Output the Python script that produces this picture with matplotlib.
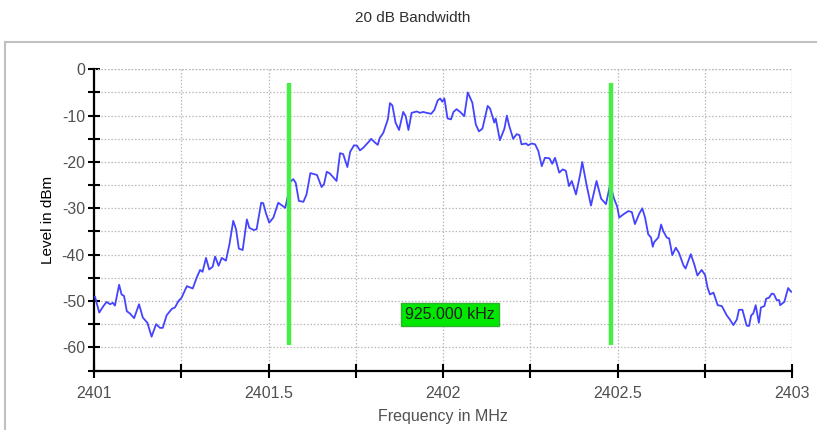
import numpy as np
import matplotlib
matplotlib.use("Agg")
import matplotlib.pyplot as plt
from matplotlib.lines import Line2D
from matplotlib.ticker import MultipleLocator

plt.rcParams['font.family'] = ['Liberation Sans', 'DejaVu Sans']
plt.rcParams['axes.unicode_minus'] = False

# spectrum trace, frequency offset from 2401 MHz and level in dBm
f_offset = [
    0.003, 0.015, 0.027, 0.036, 0.046, 0.054, 0.060, 0.072, 0.079, 0.086,
    0.094, 0.103, 0.115, 0.129, 0.140, 0.153, 0.165, 0.178, 0.189, 0.197,
    0.208, 0.223, 0.232, 0.242, 0.251, 0.266, 0.283, 0.294, 0.304, 0.311,
    0.321, 0.330, 0.340, 0.347, 0.357, 0.366, 0.378, 0.388, 0.399, 0.407,
    0.415, 0.426, 0.438, 0.445, 0.458, 0.466, 0.479, 0.485, 0.492, 0.502,
    0.514, 0.528, 0.541, 0.548, 0.555, 0.562, 0.571, 0.578, 0.587, 0.600,
    0.609, 0.620, 0.639, 0.652, 0.659, 0.667, 0.676, 0.695, 0.705, 0.714,
    0.726, 0.734, 0.745, 0.754, 0.762, 0.772, 0.789, 0.794, 0.805, 0.813,
    0.819, 0.829, 0.842, 0.848, 0.855, 0.864, 0.874, 0.886, 0.893, 0.901,
    0.910, 0.925, 0.934, 0.943, 0.953, 0.966, 0.975, 0.985, 0.992, 0.998,
    1.004, 1.013, 1.023, 1.030, 1.039, 1.049, 1.061, 1.071, 1.084, 1.094,
    1.103, 1.113, 1.128, 1.135, 1.147, 1.151, 1.163, 1.176, 1.183, 1.189,
    1.201, 1.211, 1.219, 1.225, 1.238, 1.244, 1.254, 1.264, 1.273, 1.283,
    1.292, 1.305, 1.313, 1.321, 1.333, 1.343, 1.352, 1.361, 1.369, 1.381,
    1.393, 1.399, 1.412, 1.424, 1.440, 1.453, 1.467, 1.479, 1.490, 1.499,
    1.505, 1.517, 1.531, 1.541, 1.550, 1.562, 1.571, 1.579, 1.588, 1.596,
    1.601, 1.605, 1.617, 1.625, 1.631, 1.641, 1.648, 1.657, 1.667, 1.676,
    1.689, 1.695, 1.710, 1.720, 1.729, 1.741, 1.751, 1.758, 1.765, 1.775,
    1.787, 1.799, 1.813, 1.822, 1.832, 1.842, 1.848, 1.858, 1.870, 1.877,
    1.883, 1.889, 1.896, 1.905, 1.911, 1.921, 1.926, 1.934, 1.942, 1.948,
    1.956, 1.963, 1.966, 1.978, 1.989, 1.997, 2.000,
]
level_dbm = [
    -49.1, -52.5, -51.1, -50.2, -50.7, -50.4, -51.0, -46.5, -48.6, -48.9,
    -52.2, -52.7, -53.7, -50.7, -53.6, -54.7, -57.7, -55.0, -55.8, -55.8,
    -53.1, -51.7, -51.4, -50.0, -49.3, -46.8, -47.3, -45.0, -43.3, -43.7,
    -40.7, -43.2, -42.6, -40.4, -42.4, -40.7, -41.3, -37.8, -32.7, -34.5,
    -38.7, -39.0, -32.4, -34.2, -34.7, -34.5, -28.8, -28.9, -30.9, -33.1,
    -32.0, -28.8, -29.5, -29.9, -27.5, -24.3, -23.7, -24.5, -28.4, -28.6,
    -27.0, -22.4, -22.8, -25.4, -24.8, -22.1, -22.5, -24.1, -18.1, -18.3,
    -21.1, -17.8, -16.4, -16.5, -17.5, -16.9, -15.5, -15.0, -15.8, -16.3,
    -14.8, -13.7, -10.8, -7.3, -7.8, -11.5, -13.1, -9.2, -10.1, -13.1,
    -9.4, -9.1, -9.4, -9.2, -9.4, -9.6, -8.8, -6.7, -6.3, -7.0,
    -6.3, -10.6, -10.8, -9.2, -8.6, -9.2, -10.1, -5.0, -7.2, -11.9,
    -13.4, -12.8, -7.9, -8.5, -11.5, -10.6, -15.3, -12.8, -10.0, -12.0,
    -15.0, -14.0, -14.2, -16.2, -16.0, -16.4, -16.0, -16.2, -17.6, -20.9,
    -19.1, -19.2, -20.4, -19.1, -22.3, -21.6, -21.9, -25.2, -24.1, -27.0,
    -22.7, -20.0, -25.2, -29.4, -24.1, -27.9, -29.1, -24.8, -27.9, -29.6,
    -32.0, -31.3, -30.6, -30.8, -33.4, -31.2, -30.0, -32.0, -35.6, -36.3,
    -38.3, -37.3, -36.3, -33.5, -34.9, -36.3, -36.5, -40.1, -38.5, -39.6,
    -42.3, -43.0, -39.9, -42.1, -44.5, -43.3, -44.4, -47.1, -48.6, -48.2,
    -50.9, -51.1, -53.1, -54.0, -55.2, -54.0, -51.9, -51.9, -55.3, -55.4,
    -53.1, -52.7, -50.9, -54.7, -51.4, -51.1, -49.5, -49.3, -48.4, -48.5,
    -49.8, -49.8, -50.9, -50.2, -47.2, -48.0, -48.0,
]

f_start = 2401.0
f_stop = 2403.0
marker_freqs = [2401.5575, 2402.4825]
marker_top = -3.0
marker_bottom = -59.5
bandwidth_text = "925.000 kHz"
x_tick_labels = ["2401", "2401.5", "2402", "2402.5", "2403"]

freq = f_start + np.array(f_offset)

fig = plt.figure(figsize=(8.17, 4.30), dpi=100)
ax = fig.add_axes([94 / 817, 1 - 370.5 / 430, 698 / 817, 301.2 / 430])

# grey frame around the chart area
fig.add_artist(Line2D([5 / 817, 1.0], [1 - 42 / 430, 1 - 42 / 430],
                      transform=fig.transFigure, color='#c0c0c0', lw=1.5))
fig.add_artist(Line2D([5 / 817, 5 / 817], [0, 1 - 42 / 430],
                      transform=fig.transFigure, color='#c0c0c0', lw=1.5))

ax.plot(freq, level_dbm, color='#4444ff', lw=1.3, zorder=3)

for mf in marker_freqs:
    ax.plot([mf, mf], [marker_top, marker_bottom], color='#44ee44', lw=3.2,
            solid_capstyle='butt', zorder=4)

ax.text(np.mean(marker_freqs), -53.0, bandwidth_text, ha='center', va='center',
        fontsize=11.5, color='#202020', zorder=5,
        bbox=dict(boxstyle='square,pad=0.25', facecolor='#00e800',
                  edgecolor='#30b030', lw=1))

ax.set_xlim(f_start, f_stop)
ax.set_ylim(-65, 0)

ax.xaxis.set_minor_locator(MultipleLocator(0.25))
ax.set_xticks([2401, 2401.5, 2402, 2402.5, 2403])
ax.set_xticklabels(x_tick_labels)
ax.yaxis.set_minor_locator(MultipleLocator(5))
ax.set_yticks(np.arange(-60, 1, 10))

for side in ['top', 'right']:
    ax.spines[side].set_visible(False)
for side in ['left', 'bottom']:
    ax.spines[side].set_linewidth(1.6)
    ax.spines[side].set_color('black')

ax.tick_params(which='both', direction='inout', length=10, width=1.5,
               color='black', labelcolor='#505050', labelsize=11.5)
ax.tick_params(axis='y', which='both', length=9, pad=2)
ax.tick_params(axis='x', which='both', pad=6)

ax.grid(which='both', color='#b8b8b8', linestyle=(0, (1.2, 1.5)), lw=0.9)
ax.axvline(f_stop, color='#b8b8b8', linestyle=(0, (1.2, 1.5)), lw=0.9)
ax.axhline(0, color='#b8b8b8', linestyle=(0, (1.2, 1.5)), lw=0.9)
ax.set_axisbelow(True)

ax.set_xlabel("Frequency in MHz", fontsize=11.5, color='#505050', labelpad=6)
ax.set_ylabel("Level in dBm", fontsize=11, color='black', labelpad=5)
fig.text(413 / 817, 1 - 18 / 430, "20 dB Bandwidth", ha='center', va='center',
         fontsize=11, color='#303030')

fig.savefig("out.png", dpi=100)
